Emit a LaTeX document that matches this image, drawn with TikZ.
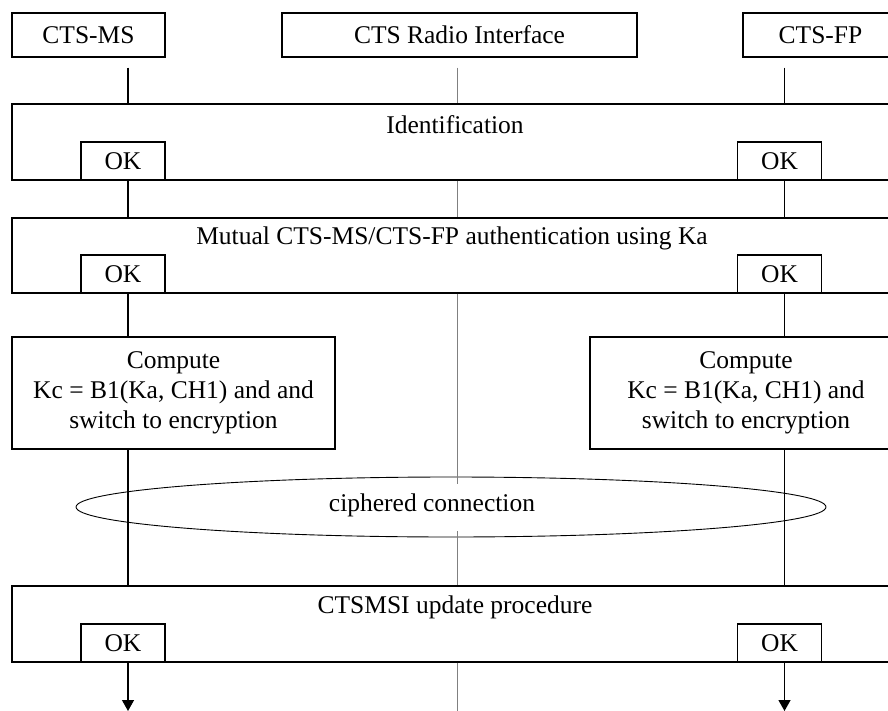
\documentclass[tikz,border=0pt]{standalone}
\usepackage{fontspec}
\setmainfont{Liberation Serif}
\usetikzlibrary{shapes.geometric,arrows.meta}
\begin{document}
\begin{tikzpicture}[x=1pt,y=-1pt,
  every node/.style={font=\fontsize{25.5}{30}\selectfont},
  box/.style={draw,line width=1.3pt,inner sep=0pt,align=center},
  okbox/.style={box,fill=white,minimum width=84pt,minimum height=38pt},
  bigbox/.style={box,minimum width=890pt,minimum height=76pt},
  txt/.style={inner sep=0pt,align=center},
  life/.style={line width=1.3pt},
  midline/.style={line width=1pt,draw=black!50}]
\useasboundingbox (0,0) rectangle (888,711);
% lifeline x positions
\coordinate (msL) at (128,0);
\coordinate (midL) at (457.7,0);
\coordinate (fpL) at (784.5,0);
\coordinate (msEnd) at (128,711);
\coordinate (fpEnd) at (784.5,711);
\coordinate (midEnd) at (457.7,711);
% header boxes
\node[box,minimum width=153pt,minimum height=44pt] (ms) at (88.5,35) {CTS-MS};
\node[box,minimum width=355pt,minimum height=44pt] (radio) at (459.5,35) {CTS Radio Interface};
\node[box,minimum width=155pt,minimum height=44pt] (fp) at (820.5,35) {CTS-FP};
% identification
\node[bigbox] (ident) at (457,142) {};
\node[txt] (identT) at (455,125) {Identification};
\node[okbox] (okA1) at (123,161) {OK};
\node[okbox] (okB1) at (779.5,161) {OK};
% mutual authentication
\node[bigbox,minimum height=75pt] (mut) at (457,255.5) {};
\node[txt] (mutT) at (452,238) {Mutual CTS-MS/CTS-FP authentication using Ka};
\node[okbox] (okA2) at (123,274) {OK};
\node[okbox] (okB2) at (779.5,274) {OK};
% compute boxes
\node[box,minimum width=323pt,minimum height=112pt] (compL) at (173.5,393) {Compute\\Kc = B1(Ka, CH1) and and\\switch to encryption};
\node[box,minimum width=312pt,minimum height=112pt] (compR) at (746,393) {Compute\\Kc = B1(Ka, CH1) and\\switch to encryption};
% ciphered connection
\node[draw,ellipse,line width=0.9pt,inner sep=0pt,minimum width=750pt,minimum height=60pt] (ell) at (451,507) {};
\node[txt] (ellT) at (432,505) {ciphered connection};
% CTSMSI update
\node[bigbox] (cts) at (457,624) {};
\node[txt] (ctsT) at (455,607) {CTSMSI update procedure};
\node[okbox] (okA3) at (123,643) {OK};
\node[okbox] (okB3) at (779.5,643) {OK};
% lifelines MS
\draw[life] ([yshift=-10pt]ms.south -| msL) -- (ident.north -| msL);
\draw[life] (okA1.south -| msL) -- (mut.north -| msL);
\draw[life] (okA2.south -| msL) -- (compL.north -| msL);
\draw[life] (compL.south -| msL) -- (cts.north -| msL);
\draw[life,-{Triangle[width=12pt,length=11pt]}] (okA3.south -| msL) -- (msEnd);
% lifelines FP
\draw[life] ([yshift=-10pt]fp.south -| fpL) -- (ident.north -| fpL);
\draw[life] (okB1.south -| fpL) -- (mut.north -| fpL);
\draw[life] (okB2.south -| fpL) -- (compR.north -| fpL);
\draw[life] (compR.south -| fpL) -- (cts.north -| fpL);
\draw[life,-{Triangle[width=12pt,length=11pt]}] (okB3.south -| fpL) -- (fpEnd);
% middle line
\draw[midline] ([yshift=-10pt]radio.south -| midL) -- (ident.north -| midL);
\draw[midline] (ident.south -| midL) -- (mut.north -| midL);
\draw[midline] (mut.south -| midL) -- ([yshift=-7pt]ell.north -| midL);
\draw[midline] ([yshift=6pt]ell.south -| midL) -- (cts.north -| midL);
\draw[midline] (cts.south -| midL) -- (midEnd);
\end{tikzpicture}
\end{document}
